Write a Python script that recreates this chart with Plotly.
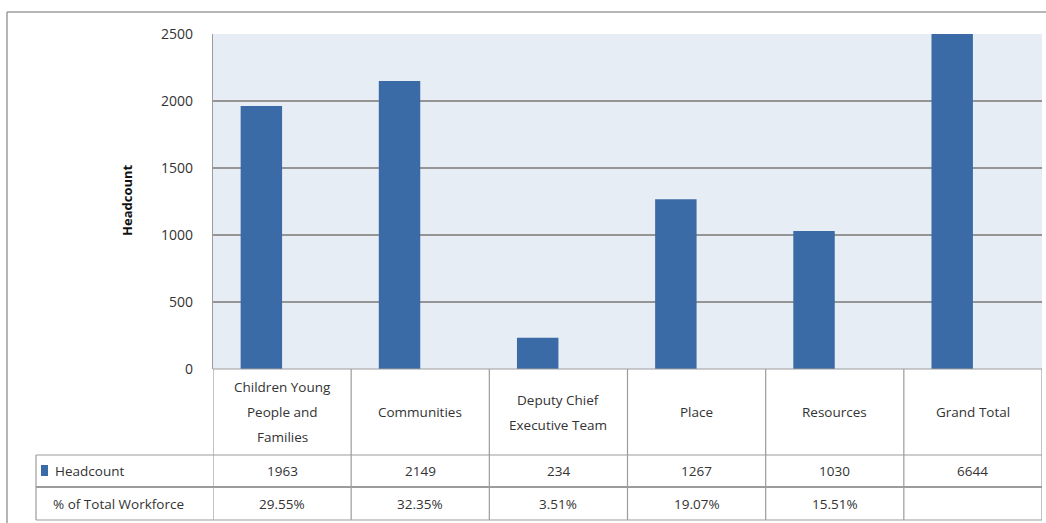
import plotly.graph_objects as go

# ---- data -------------------------------------------------------------
categories = [
    "Children Young\nPeople and\nFamilies",
    "Communities",
    "Deputy Chief\nExecutive Team",
    "Place",
    "Resources",
    "Grand Total",
]
headcount = [1963, 2149, 234, 1267, 1030, 6644]
pct_of_workforce = [0.2955, 0.3235, 0.0351, 0.1907, 0.1551, None]
y_ticks = [0, 500, 1000, 1500, 2000, 2500]
series_names = ["Headcount", "% of Total Workforce"]

# ---- styling / geometry ----------------------------------------------
W, H = 1046, 523
L, R, T, B = 213, 1042, 34, 369          # plot area in pixels
BAR_COLOR = "#3B6BA6"
PLOT_BG = "#E7EDF5"
GRID = "#959595"
LINE = "#9C9C9C"
TXT = "#333333"
FONT = "Open Sans"
CELL_SIZE = 13.5

def pxx(px):
    return (px - L) / (R - L)

def pxy(py):
    return (B - py) / (B - T)

x_names = [c.replace("\n", " ") for c in categories]

fig = go.Figure()
fig.add_trace(go.Bar(
    x=x_names, y=headcount, name=series_names[0],
    marker=dict(color=BAR_COLOR, line=dict(width=0)),
))
fig.add_trace(go.Bar(
    x=x_names, y=pct_of_workforce, name=series_names[1],
    marker=dict(color="rgba(0,0,0,0)", line=dict(width=0)),
))

shapes = []
annotations = []

def hline(x0, x1, y, xref="paper", width=1.2):
    shapes.append(dict(type="line", xref=xref, yref="paper",
                       x0=x0, x1=x1, y0=pxy(y), y1=pxy(y),
                       line=dict(color=LINE, width=width)))

def vline(x, y0, y1, xref="paper", width=1.2):
    shapes.append(dict(type="line", xref=xref, yref="paper",
                       x0=x, x1=x, y0=pxy(y0), y1=pxy(y1),
                       line=dict(color=LINE, width=width)))

# outer chart frame (top and left edges)
hline(pxx(7), pxx(1046), 12, width=1.5)
vline(pxx(7), 12, 523, width=1.5)

# data table grid
ROW1, ROW2, ROW3 = 455, 487, 520
n = len(categories)
hline(-0.5, n - 0.5, B, xref="x")
hline(pxx(36), pxx(R), ROW1)
hline(pxx(36), pxx(R), ROW2, width=2.2)
hline(pxx(36), pxx(R), ROW3)
vline(pxx(36), ROW1, ROW3)
for i in range(n + 1):
    vline(i - 0.5, B, ROW3, xref="x")

def cell_font():
    return dict(family=FONT, size=CELL_SIZE, color=TXT)

# header cells: one annotation per wrapped line
LINE_STEP = 25
HEADER_MID = (B + ROW1) / 2
for i, cat in enumerate(categories):
    lines = cat.split("\n")
    start = HEADER_MID - LINE_STEP * (len(lines) - 1) / 2
    for k, ln in enumerate(lines):
        annotations.append(dict(
            x=i, xref="x", y=pxy(start + k * LINE_STEP), yref="paper",
            text=ln, showarrow=False, xanchor="center", yanchor="middle",
            font=cell_font()))

# value rows
row1_mid = (ROW1 + ROW2) / 2
row2_mid = (ROW2 + ROW3) / 2
for i, v in enumerate(headcount):
    annotations.append(dict(
        x=i, xref="x", y=pxy(row1_mid), yref="paper", text=str(v),
        showarrow=False, xanchor="center", yanchor="middle",
        font=cell_font()))
for i, v in enumerate(pct_of_workforce):
    if v is None:
        continue
    annotations.append(dict(
        x=i, xref="x", y=pxy(row2_mid), yref="paper", text=f"{v*100:.2f}%",
        showarrow=False, xanchor="center", yanchor="middle",
        font=cell_font()))

# row headers with legend key
shapes.append(dict(type="rect", xref="paper", yref="paper",
                   x0=pxx(41), x1=pxx(48), y0=pxy(476), y1=pxy(465),
                   fillcolor=BAR_COLOR, line=dict(width=0)))
annotations.append(dict(
    x=pxx(53), xref="paper", y=pxy(row1_mid), yref="paper", text=series_names[0],
    showarrow=False, xanchor="left", yanchor="middle", font=cell_font()))
annotations.append(dict(
    x=pxx(51), xref="paper", y=pxy(row2_mid), yref="paper", text=series_names[1],
    showarrow=False, xanchor="left", yanchor="middle", font=cell_font()))

# y-axis title
annotations.append(dict(
    x=pxx(127), xref="paper", y=pxy(200), yref="paper", text="<b>Headcount</b>",
    textangle=-90, showarrow=False, xanchor="center", yanchor="middle",
    font=dict(family=FONT, size=13, color="#111111")))

fig.update_layout(
    width=W, height=H,
    margin=dict(l=L, r=W - R, t=T, b=H - B, pad=0),
    paper_bgcolor="white",
    plot_bgcolor=PLOT_BG,
    barmode="group", bargap=0.4, bargroupgap=0,
    showlegend=False,
    shapes=shapes,
    annotations=annotations,
    xaxis=dict(showticklabels=False, showgrid=False, zeroline=False,
               range=[-0.5, n - 0.5], fixedrange=True),
    yaxis=dict(range=[0, 2500], tickvals=y_ticks, showgrid=True,
               gridcolor=GRID, gridwidth=1.5, zeroline=False,
               showline=True, linecolor=LINE, linewidth=1.2,
               ticks="", ticklabelstandoff=16,
               tickfont=dict(family=FONT, size=14, color=TXT)),
)

fig.write_html("out.html")
